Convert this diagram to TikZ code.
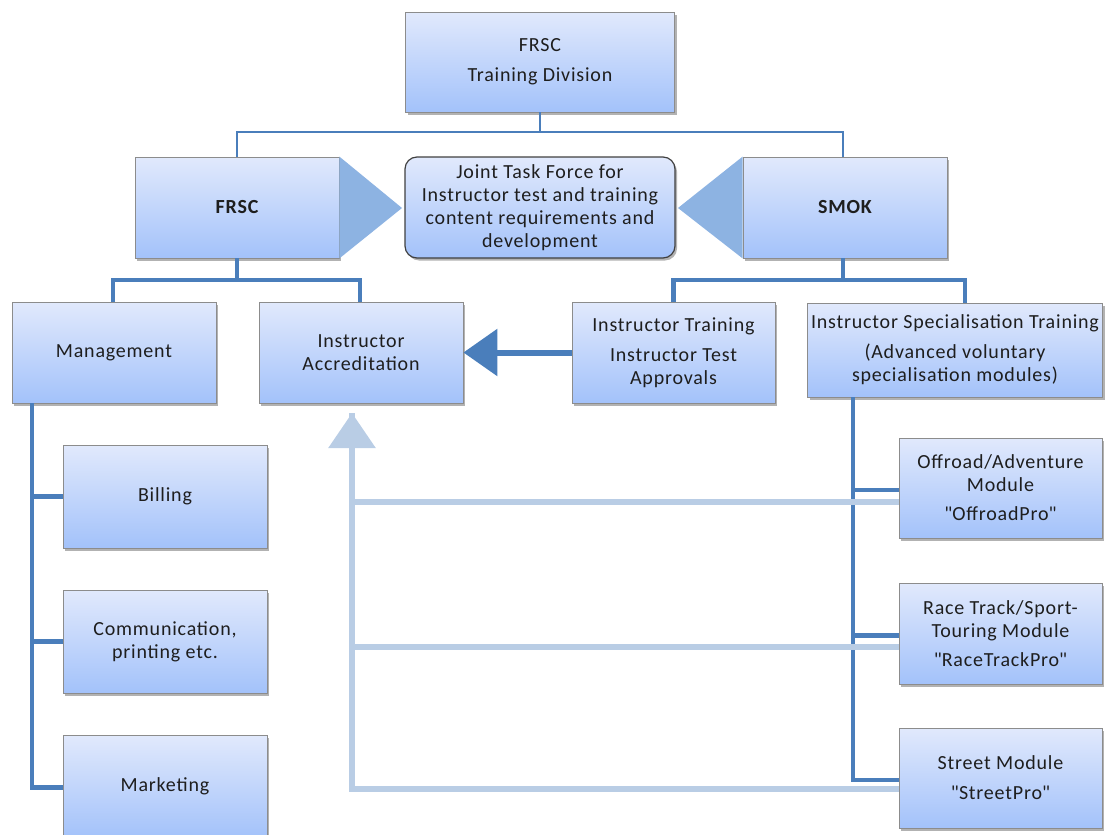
\documentclass[tikz,border=0pt]{standalone}
\usepackage{fontspec}
\setmainfont{Carlito}[LetterSpace=4]
\usetikzlibrary{arrows.meta,shadows}

\definecolor{lijnblauw}{RGB}{74,126,187}
\definecolor{driehoekblauw}{RGB}{141,179,226}
\definecolor{lichtblauw}{RGB}{185,205,229}
\definecolor{bloktop}{RGB}{225,233,252}
\definecolor{blokbodem}{RGB}{163,194,250}
\definecolor{randgrijs}{RGB}{140,140,140}
\definecolor{tekstgrijs}{RGB}{30,30,30}

\begin{document}
\begin{tikzpicture}[x=1pt, y=-1pt,
	blok/.style={draw=randgrijs, line width=0.8pt, top color=bloktop, bottom color=blokbodem,
		minimum width=204pt, minimum height=101pt, inner sep=2pt, align=center, text=tekstgrijs,
		font=\fontsize{20}{23}\selectfont,
		drop shadow={shadow xshift=2pt, shadow yshift=-2.5pt, opacity=0.3, fill=black}},
	dunnelijn/.style={draw=lijnblauw, line width=2.5pt},
	dikkelijn/.style={draw=lijnblauw, line width=4.5pt},
	lichtlijn/.style={draw=lichtblauw, line width=6pt},
	driehoek/.style={fill=driehoekblauw}]

				\useasboundingbox (0,0) rectangle (1109,835);

				% bovenste rij
				\node[blok, minimum width=269pt, minimum height=100pt] (trainingdivision) at (540,62) {FRSC\\[7pt]Training Division};
				\node[blok] (frsc) at (237,207.5) {\bfseries FRSC};
				\node[blok] (smok) at (845,207.5) {\bfseries SMOK};

				\fill[driehoek] (frsc.north east) -- (402,208) -- (frsc.south east) -- cycle;
				\fill[driehoek] (smok.north west) -- (678,208) -- (smok.south west) -- cycle;

				\node[blok, minimum width=270pt, rounded corners=12pt, draw=black!75, line width=1.2pt] (taskforce) at (540,207.5)
					{Joint Task Force for\\Instructor test and training\\content requirements and\\development};

				% tweede rij
				\node[blok] (management) at (114,352.5) {Management};
				\node[blok] (accreditation) at (361,352.5) {Instructor\\Accreditation};
				\node[blok, minimum width=203pt] (training) at (673.5,352.5) {Instructor Training\\[7pt]Instructor Test\\Approvals};
				\node[blok, minimum width=295pt, minimum height=94pt, inner sep=0pt] (specialisation) at (955,350)
					{Instructor Specialisation Training\\[7pt](Advanced voluntary\\specialisation modules)};

				% links
				\node[blok, minimum height=103pt] (billing) at (165,496.5) {Billing};
				\node[blok, minimum height=103pt] (communication) at (165,641.5) {Communication,\\printing etc.};
				\node[blok, minimum height=103pt] (marketing) at (165,786.5) {Marketing};

				% rechts
				\node[blok, minimum width=203pt, minimum height=100pt] (offroad) at (1000.5,488)
					{Offroad/Adventure\\Module\\[6pt]\textquotedbl OffroadPro\textquotedbl};
				\node[blok, minimum width=203pt] (racetrack) at (1000.5,633.5)
					{Race Track/Sport-\\Touring Module\\[6pt]\textquotedbl RaceTrackPro\textquotedbl};
				\node[blok, minimum width=203pt, minimum height=100pt] (street) at (1000.5,778)
					{Street Module\\[7pt]\textquotedbl StreetPro\textquotedbl};

				% verbindingen
				\coordinate (splitsboven) at (540,132);
				\coordinate (splitslinks) at (237,280);
				\coordinate (splitsrechts) at (843,280);
				\coordinate (raillinks) at (32,0);
				\coordinate (railrechts) at (853,0);
				\coordinate (lichtpunt) at (352,413);

				\draw[dunnelijn] (trainingdivision.south) -- (splitsboven);
				\draw[dunnelijn] (frsc.north) |- (splitsboven) -| ([xshift=-2pt]smok.north);

				\draw[dikkelijn] (frsc.south) -- (splitslinks);
				\draw[dikkelijn] ([xshift=-1pt]management.north) |- (splitslinks) -| ([xshift=-1pt]accreditation.north);
				\draw[dikkelijn] ([xshift=-2pt]smok.south) -- (splitsrechts);
				\draw[dikkelijn] (training.north) |- (splitsrechts) -| ([xshift=10pt]specialisation.north);

				\draw[dikkelijn] (management.south -| raillinks) |- ([yshift=-1pt]marketing.west);
				\draw[dikkelijn] (billing.west -| raillinks) -- (billing.west);
				\draw[dikkelijn] (communication.west -| raillinks) -- (communication.west);

				\draw[dikkelijn] (specialisation.south -| railrechts) |- ([yshift=-2pt]street.west);
				\draw[dikkelijn] ([yshift=-2pt]offroad.west -| railrechts) -- ([yshift=-2pt]offroad.west);
				\draw[dikkelijn] ([yshift=-2pt]racetrack.west -| railrechts) -- ([yshift=-2pt]racetrack.west);

				\draw[lijnblauw, line width=6pt, -{Triangle[length=34pt,width=46pt]}] (training.west) -- (accreditation.east);

				\draw[lichtlijn, -{Triangle[length=35pt,width=46pt]}] ([yshift=-11pt]street.west) -| (lichtpunt);
				\draw[lichtlijn] ([yshift=-14pt]offroad.west) -| (lichtpunt);
				\draw[lichtlijn] ([yshift=-13.5pt]racetrack.west) -| (lichtpunt);

			\end{tikzpicture}
\end{document}
